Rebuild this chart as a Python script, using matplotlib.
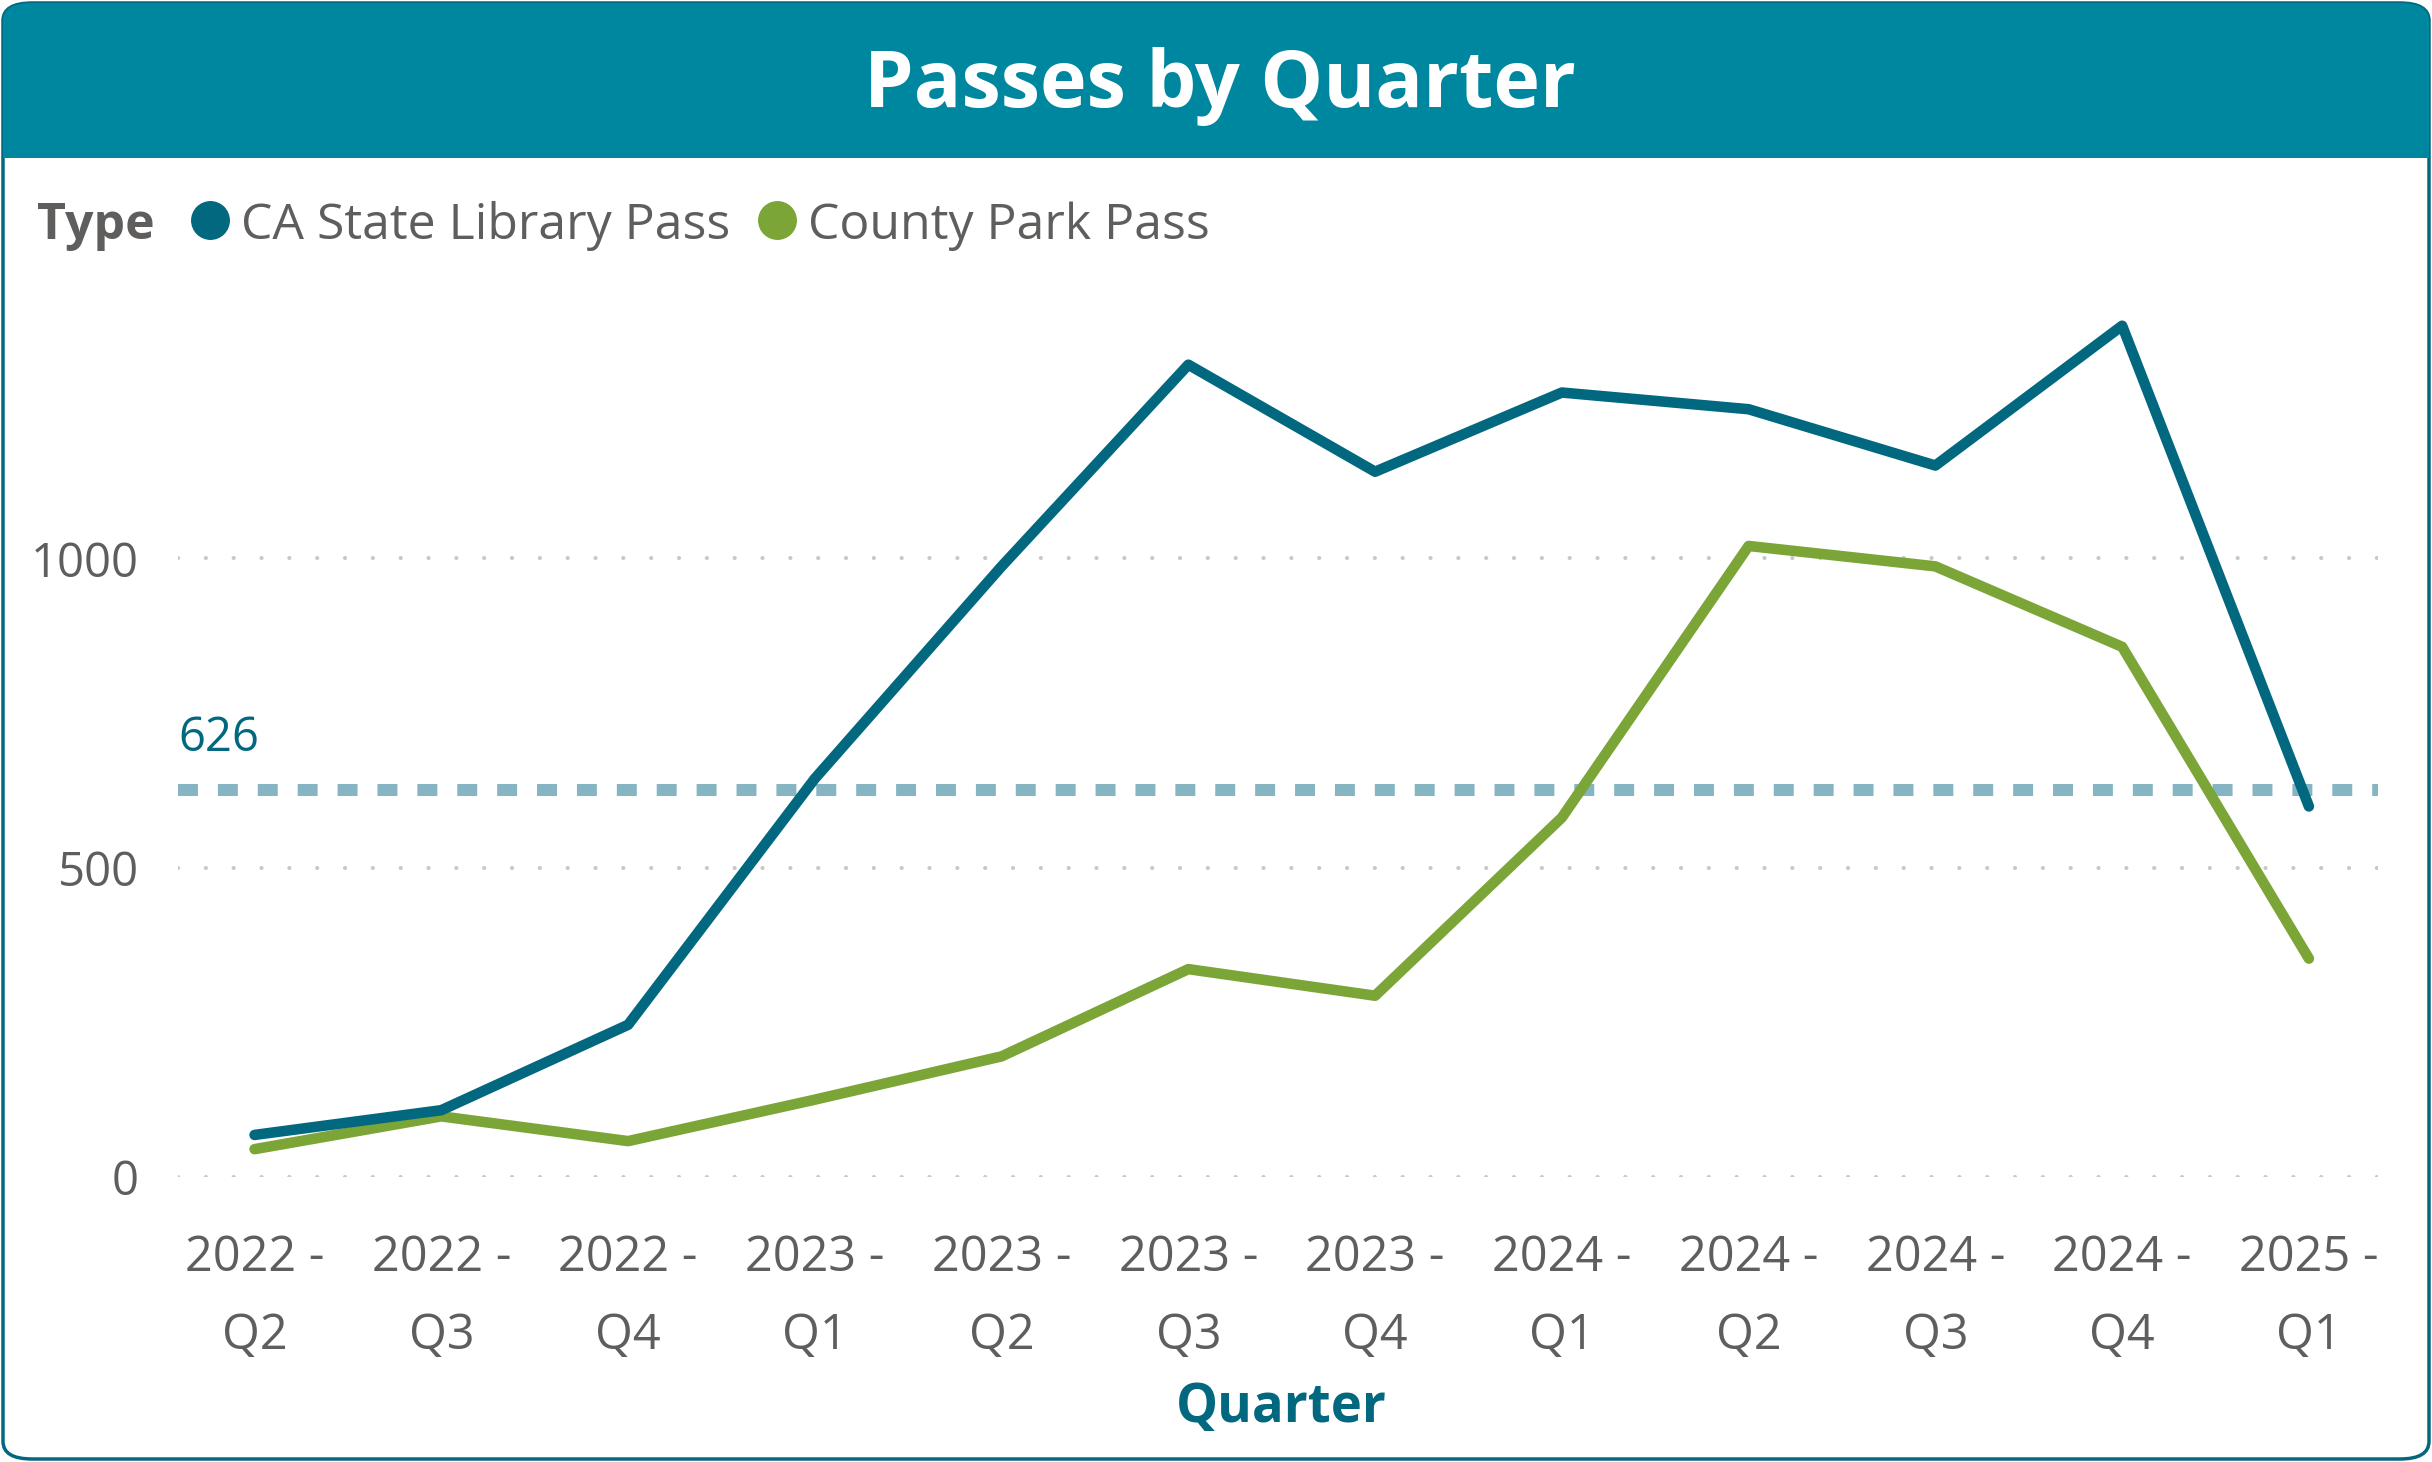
import matplotlib
matplotlib.use("Agg")
import matplotlib.pyplot as plt
from matplotlib.patches import FancyBboxPatch, Rectangle
from matplotlib.lines import Line2D

# ----- Datos -----
quarters = ["2022 -\nQ2", "2022 -\nQ3", "2022 -\nQ4", "2023 -\nQ1", "2023 -\nQ2", "2023 -\nQ3",
            "2023 -\nQ4", "2024 -\nQ1", "2024 -\nQ2", "2024 -\nQ3", "2024 -\nQ4", "2025 -\nQ1"]
ca_state_library = [68, 108, 246, 644, 987, 1313, 1140, 1268, 1241, 1150, 1376, 599]
county_park = [45, 98, 58, 125, 195, 336, 293, 581, 1020, 987, 857, 353]
series_names = ["CA State Library Pass", "County Park Pass"]
average_value = 626
y_ticks = [0, 500, 1000]

# ----- Colores -----
TEAL = "#02687F"
GREEN = "#7BA536"
HEADER = "#0087A0"
BORDER = "#03677E"
AVG_LINE = "#85B4C2"
GRID = "#C8C8C8"
TEXT = "#605E5C"
FONT = "Open Sans"

W, H = 2432, 1462
fig = plt.figure(figsize=(W / 100, H / 100), dpi=100)

# ----- Marco y barra de titulo -----
frame = FancyBboxPatch((3 / W, 3 / H), 1 - 6 / W, 1 - 6 / H,
                       boxstyle="round,pad=0,rounding_size=0.012",
                       transform=fig.transFigure, facecolor="white",
                       edgecolor=BORDER, linewidth=2.5, zorder=0)
fig.add_artist(frame)
header = Rectangle((0, 1 - 158 / H), 1, 158 / H, transform=fig.transFigure,
                   facecolor=HEADER, edgecolor="none", zorder=1)
header.set_clip_path(frame)
fig.add_artist(header)
fig.text(0.5017, 1 - 86 / H, "Passes by Quarter", ha="center", va="center",
         color="white", fontsize=57, fontweight="bold", family=FONT, zorder=2)

# ----- Ejes -----
ax = fig.add_axes([178 / W, 1 - 1177 / H, 2200 / W, (1177 - 249) / H])
x = list(range(len(quarters)))
ax.plot(x, ca_state_library, color=TEAL, lw=7.6, solid_joinstyle="round",
        solid_capstyle="round", zorder=4)
ax.plot(x, county_park, color=GREEN, lw=7.6, solid_joinstyle="round",
        solid_capstyle="round", zorder=3)
ax.axhline(average_value, color=AVG_LINE, lw=8.6, dashes=(1.67, 1.67),
           dash_capstyle="butt", zorder=2)
ax.text(0.0, average_value + 45, str(average_value), transform=ax.get_yaxis_transform(),
        color=TEAL, fontsize=34, family=FONT, ha="left", va="bottom")

for yv in y_ticks:
    ax.axhline(yv, color=GRID, lw=3, dashes=(0.01, 6.67), dash_capstyle="round",
               xmax=1.0, zorder=1)

ax.set_xlim(-0.41, 11.37)
ax.set_ylim(0, 1500)
ax.set_yticks(y_ticks)
ax.set_yticklabels([str(v) for v in y_ticks])
ax.set_xticks(x)
ax.set_xticklabels(quarters, linespacing=1.75)
ax.tick_params(axis="y", length=0, pad=28, labelsize=34, labelcolor=TEXT)
ax.tick_params(axis="x", length=0, pad=41, labelsize=35, labelcolor=TEXT)
for lbl in ax.get_xticklabels() + ax.get_yticklabels():
    lbl.set_family(FONT)
for s in ax.spines.values():
    s.set_visible(False)
ax.patch.set_alpha(0)

# titulo del eje centrado sobre el area de categorias
fig.text(1281 / W, 1 - 1408 / H, "Quarter", ha="center", va="center", color=TEAL,
         fontsize=38, fontweight="bold", family=FONT)

# ----- Leyenda -----
ly = 1 - 226 / H
t = fig.text(37 / W, ly, "Type", ha="left", va="center", color=TEXT,
             fontsize=36, fontweight="bold", family=FONT)
fig.canvas.draw()
r = fig.canvas.get_renderer()
xpos = t.get_window_extent(r).x1 + 36
for name, col in zip(series_names, [TEAL, GREEN]):
    fig.add_artist(Line2D([(xpos + 19) / W], [1 - 220 / H], marker="o", markersize=27,
                          color=col, transform=fig.transFigure))
    tt = fig.text((xpos + 50) / W, ly, name, ha="left", va="center", color=TEXT,
                  fontsize=36, family=FONT)
    xpos = tt.get_window_extent(r).x1 + 28

fig.savefig("out.png", dpi=100)
